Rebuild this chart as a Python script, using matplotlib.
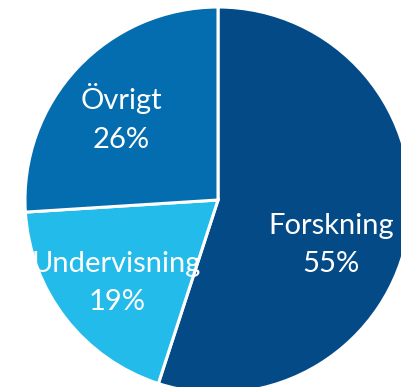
import matplotlib
matplotlib.use('Agg')
import matplotlib.pyplot as plt

# Fördelning av verksamheten
categories = ['Forskning', 'Undervisning', 'Övrigt']
shares = [55, 19, 26]
colors = ['#044a86', '#22bbea', '#046db0']

# label anchor points (pie radius = 1)
label_xy = [(0.585, -0.235), (-0.525, -0.43), (-0.5, 0.425)]

fig = plt.figure(figsize=(4.01, 3.87), dpi=100)
ax = fig.add_axes([0, 0, 1, 1])

ax.pie(shares, colors=colors, startangle=90, counterclock=False,
       wedgeprops=dict(edgecolor='white', linewidth=2.2))

for name, val, (x, y) in zip(categories, shares, label_xy):
    ax.text(x, y, f'{name}\n{val}%', ha='center', va='center',
            color='white', fontsize=21, family='Lato', linespacing=1.58)

# center of the pie sits at (218, 200) px, radius 193 px
ax.set_aspect('auto')
ax.set_xlim(-218 / 193, (401 - 218) / 193)
ax.set_ylim(-(387 - 200) / 193, 200 / 193)
ax.axis('off')

fig.savefig('out.png', dpi=100, facecolor='white')
